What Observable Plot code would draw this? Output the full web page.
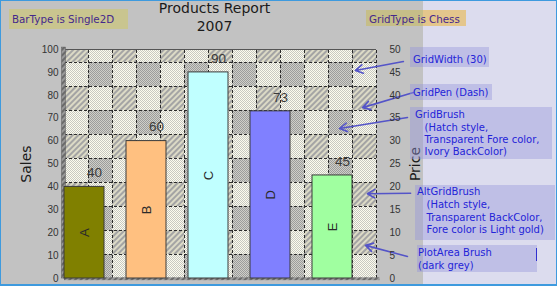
<!DOCTYPE html>
<html>
<head>
<meta charset="utf-8">
<script src="https://cdn.jsdelivr.net/npm/d3@7"></script>
<script src="https://cdn.jsdelivr.net/npm/@observablehq/plot@0.6"></script>
<style>
  html, body { margin: 0; padding: 0; background: #ffffff; }
  #page { position: relative; width: 557px; height: 286px; overflow: hidden;
    background: linear-gradient(to right, #c2c2c2 0px, #c2c2c2 423px, #dcdcee 423px);
    font-family: "DejaVu Sans", sans-serif; }
  #page > svg { position: absolute; left: 0; top: 0; }
  .abs { position: absolute; box-sizing: border-box; white-space: pre; }
  .title { left: 0; width: 429px; top: -1px; text-align: center; font-size: 14px; line-height: 18px; color: #1a1a1a; }
  .tag { font-size: 10.3px; line-height: 14px; color: #44288c; }
  .note { font-size: 10px; color: #2424d8; background: rgba(150, 150, 220, 0.42); }
  .frameBorder { left: 0; top: 0; width: 557px; height: 286px; border: 1px solid #3e9ade; border-bottom-width: 2px; pointer-events: none; }
</style>
</head>
<body>
<svg width="0" height="0" style="position:absolute">
  <defs>
    <pattern id="hatch" width="4" height="4" patternUnits="userSpaceOnUse" patternTransform="rotate(45)">
      <rect width="4" height="4" fill="#a4a4a4"></rect>
      <rect width="2" height="4" fill="#dcdac6"></rect>
    </pattern>
    <pattern id="ivory" width="2" height="2" patternUnits="userSpaceOnUse">
      <rect width="2" height="2" fill="#fcfcee"></rect>
      <rect width="1" height="1" fill="#c8c8c2"></rect>
      <rect x="1" y="1" width="1" height="1" fill="#c8c8c2"></rect>
    </pattern>
    <pattern id="grey" width="2" height="2" patternUnits="userSpaceOnUse">
      <rect width="2" height="2" fill="#cfcfc8"></rect>
      <rect width="1" height="1" fill="#9c9c9c"></rect>
      <rect x="1" y="1" width="1" height="1" fill="#9c9c9c"></rect>
    </pattern>
    <pattern id="wall" width="4" height="4" patternUnits="userSpaceOnUse" patternTransform="rotate(45)">
      <rect width="4" height="4" fill="#6a6a6a"></rect>
      <rect width="2" height="4" fill="#9a9a9a"></rect>
    </pattern>
  </defs>
</svg>
<div id="page"></div>
<script>
// ---------- data ----------
const categories = ["A", "B", "C", "D", "E"];
const sales = [40, 60, 90, 73, 45];
const barColors = ["#808000", "#ffc080", "#c0ffff", "#8080ff", "#a0ffa0"];
const salesTicks = [0, 10, 20, 30, 40, 50, 60, 70, 80, 90, 100];
const priceTicks = [0, 5, 10, 15, 20, 25, 30, 35, 40, 45, 50];
const salesMax = 100;
const priceMax = 50;
const titleLines = ["Products Report", "2007"];
const tagTexts = ["BarType is Single2D", "GridType is Chess"];
const noteTexts = [
  ["GridWidth (30)"],
  ["GridPen (Dash)"],
  ["GridBrush", "   (Hatch style,", "   Transparent Fore color,", "   Ivory BackColor)"],
  ["AltGridBrush", "   (Hatch style,", "   Transparent BackColor,", "   Fore color is Light gold)"],
  ["PlotArea Brush", "(dark grey)"]
];

// ---------- layout ----------
const W = 557, H = 286;
const margin = {marginTop: 49, marginRight: 181, marginBottom: 8, marginLeft: 64};
const gridPx = 24;
const plotW = W - margin.marginLeft - margin.marginRight;
const plotH = H - margin.marginTop - margin.marginBottom;
const gridCols = plotW / gridPx;
const gridTop = plotH / gridPx;

// arrows: from note box (x1,y1) to grid target (x2,y2), in grid-cell units
const arrowSpecs = [
  {x1: 14.12, y1: 9.04, x2: 12.12, y2: 8.67},
  {x1: 14.54, y1: 7.75, x2: 12.42, y2: 7.12},
  {x1: 14.29, y1: 6.71, x2: 11.46, y2: 6.25},
  {x1: 14.42, y1: 3.55, x2: 12.62, y2: 3.53},
  {x1: 14.29, y1: 0.92, x2: 12.54, y2: 1.38}
];

// chess cells
const cells = [];
for (let c = 0; c < Math.ceil(gridCols); c++) {
  for (let r = 0; r < Math.ceil(gridTop); r++) {
    const kind = (r % 2 === 1) ? (c % 2 === 0 ? "hatch" : "ivory") : (c % 2 === 1 ? "grey" : "ivory");
    cells.push({c, r, kind, x2: Math.min(c + 1, gridCols), y2: Math.min(r + 1, gridTop)});
  }
}
const cellMark = (kind) => Plot.rect(cells.filter(d => d.kind === kind),
  {x1: "c", x2: "x2", y1: "r", y2: "y2", fill: `url(#${kind})`});

const page = document.getElementById("page");

const bg = Plot.plot({
  width: W, height: H, ...margin,
  style: {background: "transparent", overflow: "visible"},
  x: {domain: [0, gridCols], axis: null},
  y: {domain: [0, gridTop], axis: null},
  marks: [
    cellMark("hatch"), cellMark("ivory"), cellMark("grey"),
    Plot.ruleX(d3.range(1, gridCols + 1), {y1: 0, y2: gridTop, stroke: "#2a2a2a", strokeDasharray: "3,2", strokeWidth: 1}),
    Plot.ruleY(d3.range(1, Math.ceil(gridTop)), {x1: 0, x2: gridCols, stroke: "#2a2a2a", strokeDasharray: "3,2", strokeWidth: 1}),
    Plot.ruleY([gridTop], {x1: 0, x2: gridCols, stroke: "#555", strokeWidth: 1}),
    Plot.rect([0], {x1: -0.1, x2: 0.06, y1: 0, y2: gridTop + 0.08, fill: "url(#wall)", stroke: "#555", strokeWidth: 0.5}),
    Plot.rect([0], {x1: 0, x2: gridCols + 0.15, y1: -0.09, y2: 0.03, fill: "url(#wall)"}),
    Plot.arrow(arrowSpecs, {x1: "x1", y1: "y1", x2: "x2", y2: "y2", stroke: "#5454c8", strokeWidth: 1.6, headLength: 8})
  ]
});
page.appendChild(bg);

const data = categories.map((cat, i) => ({cat, sales: sales[i], color: barColors[i]}));

const fg = Plot.plot({
  width: W, height: H, ...margin,
  style: {background: "transparent", overflow: "visible", fontFamily: "'Liberation Sans', Arial, sans-serif", fontSize: "10px", color: "#333"},
  x: {domain: categories, paddingInner: 0.357, paddingOuter: 0.185, align: 0, axis: null},
  y: {domain: [0, salesMax], axis: null},
  color: {type: "identity"},
  marks: [
    Plot.barY(data, {x: "cat", y: "sales", fill: "color", stroke: "#3a3a3a", strokeWidth: 1}),
    Plot.text(data, {x: "cat", y: "sales", text: d => String(d.sales), dy: -14, dx: 10, fontSize: 13.5, fill: "#3a3a3a"}),
    Plot.text(data, {x: "cat", y: d => d.sales / 2, text: "cat", rotate: -90, fontSize: 13, fill: "#2a2a2a"}),
    Plot.axisY({anchor: "left", ticks: salesTicks, tickSize: 0, tickPadding: 6, label: null}),
    Plot.axisY({anchor: "right", ticks: priceTicks.map(p => p * salesMax / priceMax),
      tickFormat: d => String(d * priceMax / salesMax), tickSize: 0, tickPadding: 13, label: null}),
    Plot.text(["Sales"], {text: d => d, frameAnchor: "left", textAnchor: "middle", dx: -38, rotate: -90, fontSize: 14, fontFamily: "DejaVu Sans", fill: "#1a1a1a"}),
    Plot.text(["Price"], {text: d => d, frameAnchor: "right", textAnchor: "middle", dx: 39, rotate: -90, fontSize: 14, fontFamily: "DejaVu Sans", fill: "#1a1a1a"})
  ]
});
page.appendChild(fg);

// ---------- HTML texts ----------
function addDiv(cls, css, text) {
  const d = document.createElement("div");
  d.className = "abs " + cls;
  Object.assign(d.style, css);
  d.textContent = text;
  page.appendChild(d);
  return d;
}
addDiv("title", {}, titleLines.join("\n"));
addDiv("tag", {left: "9px", top: "9px", width: "119px", height: "20px", paddingTop: "3px", paddingLeft: "3px",
  background: "#c9c58f"}, tagTexts[0]);
addDiv("tag", {left: "366px", top: "10px", width: "100px", height: "16px", paddingTop: "2px", paddingLeft: "3px",
  background: "linear-gradient(to right, #c6be88 0px, #c6be88 57px, #e4c68c 57px)"}, tagTexts[1]);

const noteBoxes = [
  {left: 410, top: 47, width: 79, height: 20, padTop: 7, padLeft: 3, lh: 12},
  {left: 410, top: 84, width: 82, height: 16, padTop: 2.5, padLeft: 3, lh: 12},
  {left: 410, top: 107, width: 142, height: 52, padTop: 2.4, padLeft: 5, lh: 12.3},
  {left: 415, top: 185, width: 140, height: 55, padTop: 1.2, padLeft: 2, lh: 12.7},
  {left: 417, top: 245, width: 120, height: 27, padTop: 2.3, padLeft: 1, lh: 12.5}
];
noteBoxes.forEach((b, i) => {
  addDiv("note", {left: b.left + "px", top: b.top + "px", width: b.width + "px", height: b.height + "px",
    paddingTop: b.padTop + "px", paddingLeft: b.padLeft + "px", lineHeight: b.lh + "px"}, noteTexts[i].join("\n"));
});
addDiv("", {left: "536px", top: "248px", width: "1px", height: "13px", background: "#3030d0"}, "");
addDiv("frameBorder", {}, "");
</script>
</body>
</html>
